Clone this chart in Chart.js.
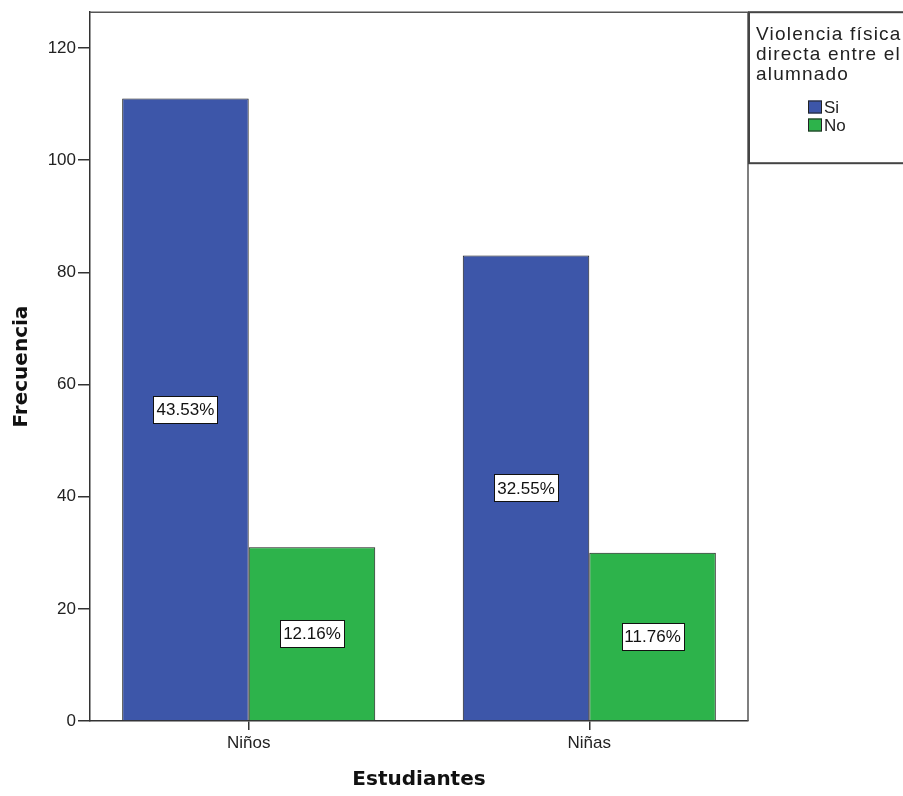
<!DOCTYPE html>
<html>
<head>
<meta charset="utf-8">
<script src="https://cdn.jsdelivr.net/npm/chart.js@4/dist/chart.umd.min.js"></script>
<style>
  html, body { margin: 0; padding: 0; background: #fff; }
  canvas { display: block; }
</style>
</head>
<body>
<canvas id="c" width="903" height="796"></canvas>
<script>
// Students by sex, split by whether they reported direct physical violence
const categories = ['Niños', 'Niñas'];
const seriesNames = ['Si', 'No'];
const siValues = [111, 83];
const noValues = [31, 30];
const yTickValues = [0, 20, 40, 60, 80, 100, 120];
const seriesColors = ['#3D56A9', '#2DB34B'];
const legendTitle = ['Violencia física', 'directa entre el', 'alumnado'];

const total = [...siValues, ...noValues].reduce((a, b) => a + b, 0);
const tickFont = { family: '"Liberation Sans", Arial, sans-serif', size: 17 };

// White boxed percentage at the middle of every bar
const percentLabels = {
  id: 'percentLabels',
  afterDatasetsDraw(chart) {
    const ctx = chart.ctx;
    ctx.save();
    ctx.font = '17px "Liberation Sans", Arial, sans-serif';
    ctx.textAlign = 'center';
    ctx.textBaseline = 'middle';
    chart.data.datasets.forEach((ds, di) => {
      const meta = chart.getDatasetMeta(di);
      meta.data.forEach((el, i) => {
        const v = ds.data[i].y;
        const txt = (v / total * 100).toFixed(2) + '%';
        const cx = el.x;
        const cy = (el.y + el.base) / 2;
        const w = Math.round(ctx.measureText(txt).width + 6);
        const h = 27;
        const bx = Math.round(cx - w / 2) + 0.5;
        const by = Math.round(cy - h / 2) + 0.5;
        ctx.fillStyle = '#fff';
        ctx.fillRect(bx, by, w, h);
        ctx.strokeStyle = '#111';
        ctx.lineWidth = 1;
        ctx.strokeRect(bx, by, w, h);
        ctx.fillStyle = '#111';
        ctx.fillText(txt, cx, cy + 1);
      });
    });
    ctx.restore();
  }
};

// Plot frame (top and right edges) and the boxed legend on the right
const frameAndLegend = {
  id: 'frameAndLegend',
  afterDraw(chart) {
    const ctx = chart.ctx;
    const a = chart.chartArea;
    ctx.save();
    ctx.strokeStyle = '#555';
    ctx.lineWidth = 1.5;
    ctx.beginPath();
    ctx.moveTo(a.left, a.top);
    ctx.lineTo(a.right, a.top);
    ctx.lineTo(a.right, a.bottom);
    ctx.stroke();

    // legend frame
    const lx = a.right + 1, ly = a.top, lw = 160, lh = 151;
    ctx.strokeStyle = '#444';
    ctx.lineWidth = 2;
    ctx.strokeRect(lx, ly, lw, lh);

    // legend title
    ctx.fillStyle = '#222';
    ctx.font = '19px "Liberation Sans", Arial, sans-serif';
    if ('letterSpacing' in ctx) ctx.letterSpacing = '1.2px';
    ctx.textAlign = 'left';
    ctx.textBaseline = 'alphabetic';
    legendTitle.forEach((t, i) => ctx.fillText(t, lx + 7, 39.5 + i * 20.3));
    if ('letterSpacing' in ctx) ctx.letterSpacing = '0px';

    // legend entries
    ctx.font = '17px "Liberation Sans", Arial, sans-serif';
    ctx.textBaseline = 'middle';
    chart.data.datasets.forEach((ds, i) => {
      const cy = 107 + i * 18;
      ctx.fillStyle = ds.backgroundColor;
      ctx.fillRect(808, cy - 6.5, 14, 13);
      ctx.strokeStyle = '#222';
      ctx.lineWidth = 1;
      ctx.strokeRect(808.5, cy - 6, 13, 12);
      ctx.fillStyle = '#222';
      ctx.fillText(ds.label, 824, cy + 1);
    });
    ctx.restore();
  }
};

new Chart(document.getElementById('c'), {
  type: 'bar',
  data: {
    datasets: [
      {
        label: seriesNames[0],
        data: categories.map((c, i) => ({ x: i, y: siValues[i] })),
        backgroundColor: seriesColors[0],
        borderColor: '#1a1a1a',
        borderWidth: 1
      },
      {
        label: seriesNames[1],
        data: categories.map((c, i) => ({ x: i, y: noValues[i] })),
        backgroundColor: seriesColors[1],
        borderColor: '#1a1a1a',
        borderWidth: 1
      }
    ]
  },
  options: {
    responsive: false,
    animation: false,
    categoryPercentage: 0.743,
    barPercentage: 1,
    layout: { padding: { top: 11, right: 155, bottom: 0, left: 0 } },
    plugins: {
      legend: { display: false },
      tooltip: { enabled: false }
    },
    scales: {
      x: {
        type: 'linear',
        offset: false,
        min: -0.466,
        max: 1.466,
        afterBuildTicks: s => { s.ticks = categories.map((c, i) => ({ value: i })); },
        afterFit: s => { s.height = 75; },
        ticks: {
          callback: v => categories[v],
          font: tickFont,
          color: '#222',
          padding: 3,
          autoSkip: false,
          maxRotation: 0
        },
        grid: { offset: false, drawOnChartArea: false, drawTicks: true, tickLength: 9, color: '#333', lineWidth: 1.5 },
        border: { display: true, color: '#333', width: 1.5 },
        title: {
          display: true,
          text: 'Estudiantes',
          color: '#111',
          font: { family: '"DejaVu Sans", sans-serif', size: 20, weight: 'bold' },
          padding: { top: 0, bottom: 4 }
        }
      },
      y: {
        min: 0,
        max: 126.4,
        afterBuildTicks: s => { s.ticks = yTickValues.map(v => ({ value: v })); },
        afterFit: s => { s.width = 90; },
        ticks: {
          font: tickFont,
          color: '#222',
          padding: 2
        },
        grid: { drawOnChartArea: false, drawTicks: true, tickLength: 12, color: '#333', lineWidth: 1.5 },
        border: { display: true, color: '#333', width: 1.5 },
        title: {
          display: true,
          text: 'Frecuencia',
          color: '#111',
          font: { family: '"DejaVu Sans", sans-serif', size: 20, weight: 'bold' },
          padding: { top: 10, bottom: 0 }
        }
      }
    }
  },
  plugins: [percentLabels, frameAndLegend]
});
</script>
</body>
</html>
